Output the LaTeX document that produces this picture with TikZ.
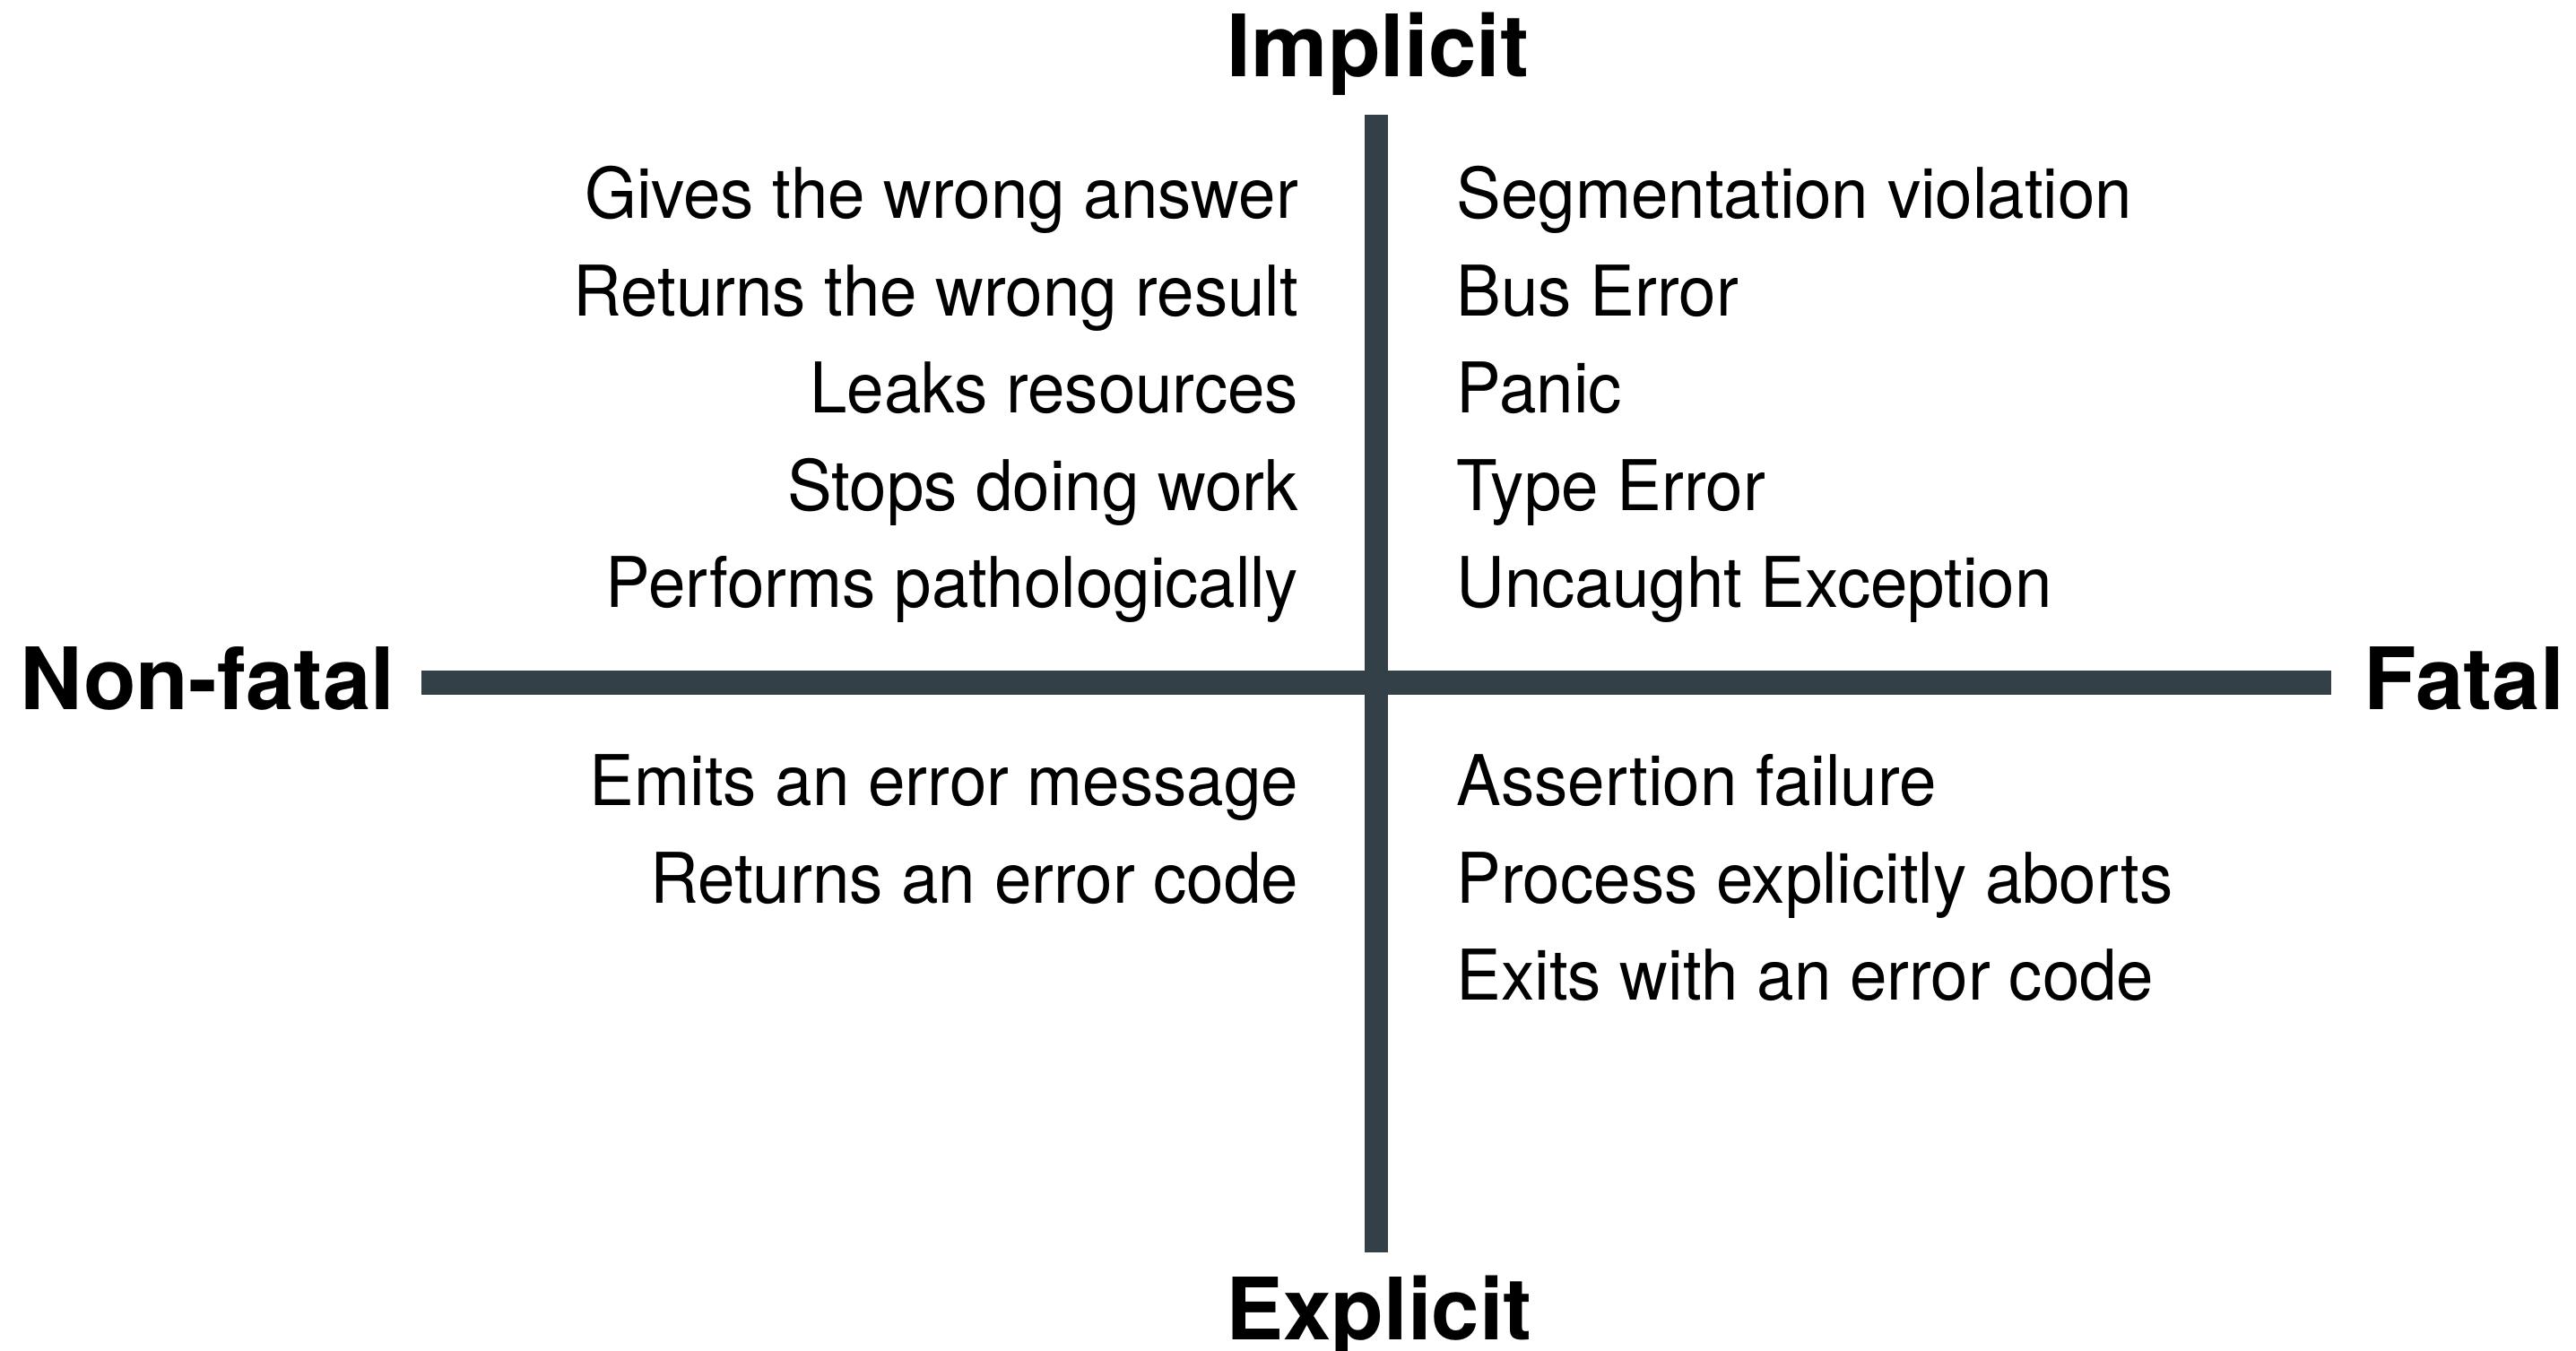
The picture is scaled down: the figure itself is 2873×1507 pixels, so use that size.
\documentclass[tikz,border=0pt]{standalone}
\usepackage{fontspec}
\setmainfont{TeX Gyre Heros}
\newfontfamily\itemfont[FakeStretch=0.955]{TeX Gyre Heros}
\definecolor{axisgrey}{RGB}{52,64,71}
\begin{document}
\begin{tikzpicture}[x=0.25pt,y=-0.25pt,
  axislabel/.style={inner sep=0pt, font=\fontsize{24}{28}\selectfont\bfseries},
  item/.style={inner sep=0pt, font=\itemfont\fontsize{19.5}{24}\selectfont},
  axisline/.style={draw=axisgrey, line width=6.6pt}]
\useasboundingbox (0,0) rectangle (2873,1507);

% axes
\coordinate (vtop) at (1535,128);
\coordinate (vbot) at (1535,1397);
\coordinate (hleft) at (470,761.5);
\coordinate (hright) at (2600,761.5);
\draw[axisline] (vtop) -- (vbot);
\draw[axisline] (hleft) -- (hright);

% axis labels
\node[axislabel, anchor=base] (implicit) at (1537,86) {Implicit};
\node[axislabel, anchor=base] (explicit) at (1538,1494) {Explicit};
\node[axislabel, anchor=base east] (nonfatal) at (441,792) {Non-fatal};
\node[axislabel, anchor=base west] (fatal) at (2636,792) {Fatal};

% implicit, non-fatal
\node[item, anchor=base east] (inf1) at (1449,244) {Gives the wrong answer};
\node[item, anchor=base east] (inf2) at (1449,352.5) {Returns the wrong result};
\node[item, anchor=base east] (inf3) at (1449,461) {Leaks resources};
\node[item, anchor=base east] (inf4) at (1449,569.5) {Stops doing work};
\node[item, anchor=base east] (inf5) at (1449,678) {Performs pathologically};

% implicit, fatal
\node[item, anchor=base west] (if1) at (1624,244) {Segmentation violation};
\node[item, anchor=base west] (if2) at (1624,352.5) {Bus Error};
\node[item, anchor=base west] (if3) at (1624,461) {Panic};
\node[item, anchor=base west] (if4) at (1624,569.5) {Type Error};
\node[item, anchor=base west] (if5) at (1624,678) {Uncaught Exception};

% explicit, non-fatal
\node[item, anchor=base east] (enf1) at (1449,899) {Emits an error message};
\node[item, anchor=base east] (enf2) at (1449,1007) {Returns an error code};

% explicit, fatal
\node[item, anchor=base west] (ef1) at (1624,899) {Assertion failure};
\node[item, anchor=base west] (ef2) at (1624,1007) {Process explicitly aborts};
\node[item, anchor=base west] (ef3) at (1624,1115) {Exits with an error code};
\end{tikzpicture}
\end{document}
